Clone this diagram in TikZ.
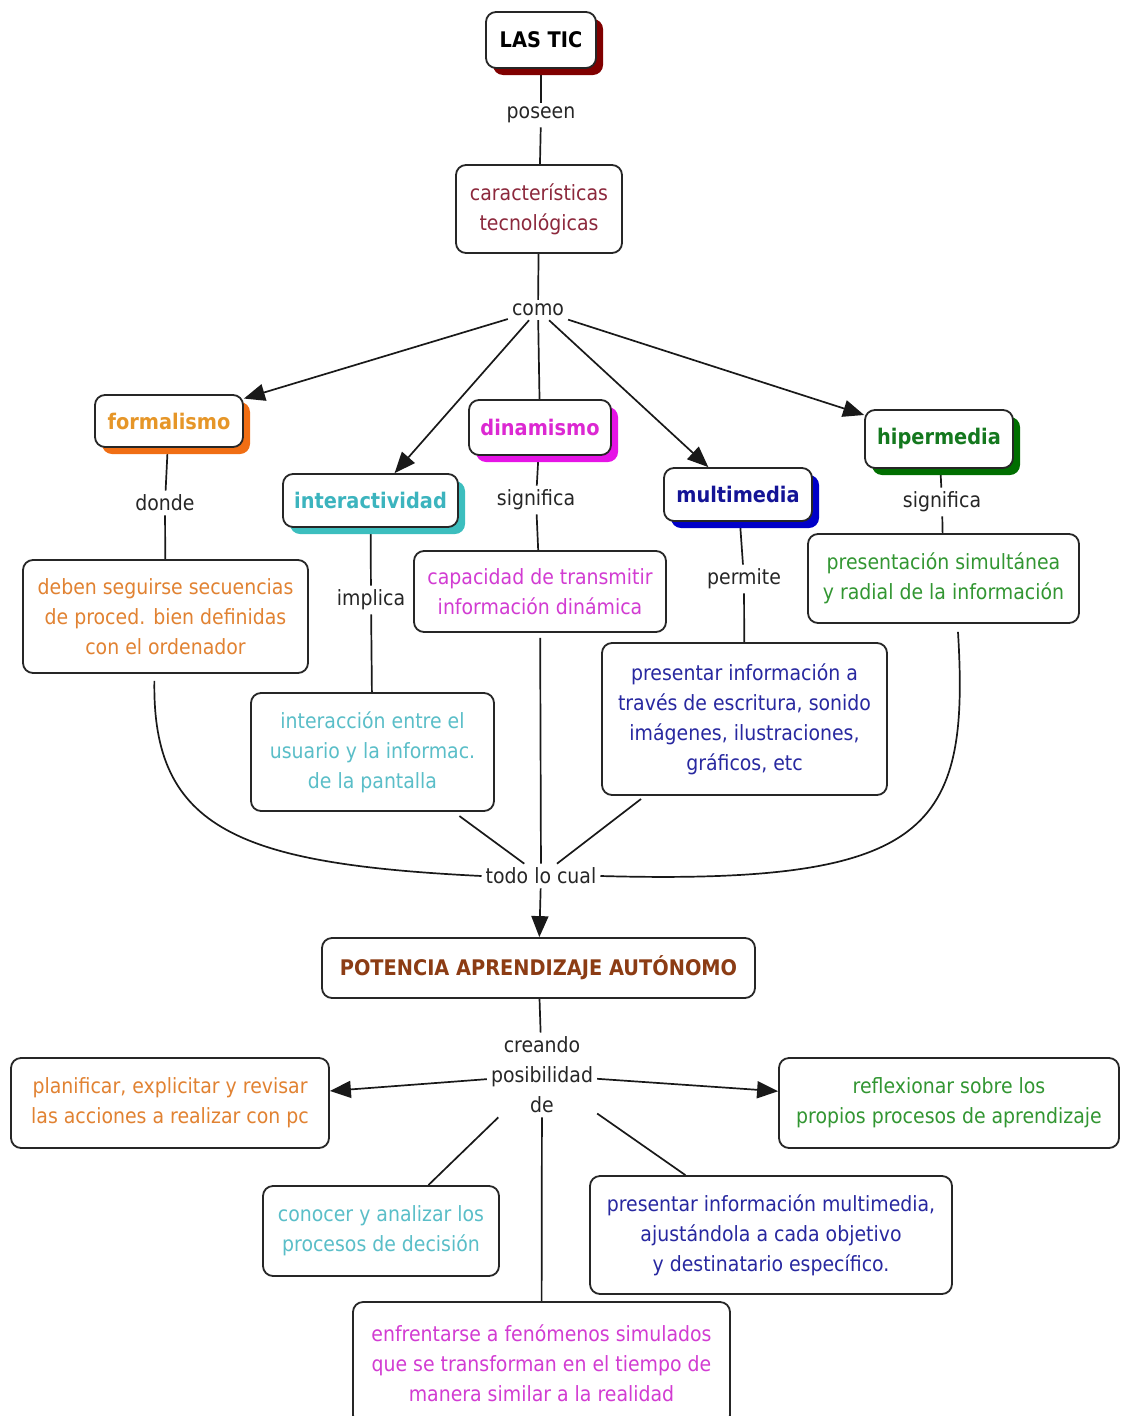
\documentclass[tikz,border=0pt]{standalone}
\usepackage{fontspec}
\setmainfont{DejaVu Sans}[FakeStretch=0.9]
\usetikzlibrary{arrows.meta,shadows,backgrounds}
\definecolor{cMaroon}{RGB}{128,0,0}
\definecolor{cRose}{RGB}{140,40,60}
\definecolor{cOrT}{RGB}{230,150,40}
\definecolor{cOrS}{RGB}{240,110,20}
\definecolor{cOr}{RGB}{225,130,50}
\definecolor{cTeT}{RGB}{60,180,190}
\definecolor{cTeS}{RGB}{60,190,190}
\definecolor{cTe}{RGB}{90,190,200}
\definecolor{cMaT}{RGB}{220,40,210}
\definecolor{cMaS}{RGB}{230,20,230}
\definecolor{cMa}{RGB}{210,60,210}
\definecolor{cBlT}{RGB}{20,20,150}
\definecolor{cBlS}{RGB}{0,0,200}
\definecolor{cBl}{RGB}{40,40,160}
\definecolor{cGrT}{RGB}{20,120,30}
\definecolor{cGrS}{RGB}{0,110,0}
\definecolor{cGr}{RGB}{50,150,50}
\definecolor{cBr}{RGB}{140,60,20}
\tikzset{
  txt/.style={font=\fontsize{21}{30}\selectfont},
  box/.style={draw=black!85, line width=1.8pt, rounded corners=10pt, fill=white,
    align=center, inner sep=0pt, txt},
  bbox/.style={box, font=\fontsize{21.5}{30}\selectfont\bfseries},
  sh/.style={drop shadow={shadow xshift=7pt,shadow yshift=-7pt,fill=#1,opacity=1}},
  lbl/.style={txt, align=center, inner sep=4pt, text=black!85},
  conn/.style={line width=1.7pt, black!90},
  arr/.style={conn, -{Triangle[length=21pt,width=17pt]}},
}
\begin{document}
\begin{tikzpicture}[x=1pt,y=-1pt]
\useasboundingbox (0,0) rectangle (1120,1416);
% concept nodes
\node[bbox, sh=cMaroon, minimum width=110, minimum height=56] (lastic) at (541,40) {LAS TIC};
\node[box, text=cRose, minimum width=166, minimum height=88] (caract) at (539,209) {características\\tecnológicas};
\node[bbox, sh=cOrS, text=cOrT, minimum width=148, minimum height=52] (formal) at (169,421) {formalismo};
\node[bbox, sh=cTeS, text=cTeT, minimum width=175, minimum height=53] (interact) at (370.5,500.5) {interactividad};
\node[bbox, sh=cMaS, text=cMaT, minimum width=142, minimum height=55] (dinam) at (540,427.5) {dinamismo};
\node[bbox, sh=cBlS, text=cBlT, minimum width=148, minimum height=53] (multi) at (738,494.5) {multimedia};
\node[bbox, sh=cGrS, text=cGrT, minimum width=148, minimum height=58] (hiper) at (939,439) {hipermedia};
\node[box, text=cOr, minimum width=285, minimum height=113] (deben) at (165.5,616.5) {deben seguirse secuencias\\de proced. bien definidas\\con el ordenador};
\node[box, text=cTe, minimum width=243, minimum height=118] (interac) at (372.5,752) {interacción entre el\\usuario y la informac.\\de la pantalla};
\node[box, text=cMa, minimum width=252, minimum height=81] (capac) at (540,591.5) {capacidad de transmitir\\información dinámica};
\node[box, text=cBl, minimum width=285, minimum height=152] (presinfo) at (744.5,719) {presentar información a\\través de escritura, sonido\\imágenes, ilustraciones,\\gráficos, etc};
\node[box, text=cGr, minimum width=271, minimum height=89] (presen) at (943.5,578.5) {presentación simultánea\\y radial de la información};
\node[bbox, text=cBr, minimum width=433, minimum height=60] (poten) at (538.5,968) {POTENCIA APRENDIZAJE AUTÓNOMO};
\node[box, text=cOr, minimum width=318, minimum height=90] (plani) at (170,1103) {planificar, explicitar y revisar\\las acciones a realizar con pc};
\node[box, text=cGr, minimum width=340, minimum height=90] (reflex) at (949,1103) {reflexionar sobre los\\propios procesos de aprendizaje};
\node[box, text=cTe, minimum width=236, minimum height=90] (conoc) at (381,1231) {conocer y analizar los\\procesos de decisión};
\node[box, text=cBl, minimum width=362, minimum height=118] (presmul) at (771,1235) {presentar información multimedia,\\ajustándola a cada objetivo\\y destinatario específico.};
\node[box, text=cMa, minimum width=377, minimum height=123] (enfren) at (541.5,1363.5) {enfrentarse a fenómenos simulados\\que se transforman en el tiempo de\\manera similar a la realidad};
% linking phrases
\node[lbl] (poseen) at (541,115) {poseen};
\node[lbl] (como) at (538,310) {como};
\node[lbl] (donde) at (165,503) {donde};
\node[lbl] (implica) at (371,600) {implica};
\node[lbl] (signif1) at (536,500) {significa};
\node[lbl] (permite) at (744,579) {permite};
\node[lbl] (signif2) at (942,502) {significa};
\node[lbl] (todo) at (541,876) {todo lo cual};
\node[lbl] (creando) at (542,1075) {creando\\posibilidad\\de};
% connectors
\begin{scope}[on background layer]
\draw[conn] (lastic) -- (poseen);
\draw[conn] (poseen) -- (caract);
\draw[conn] (caract) -- (como);
\draw[arr] (como) -- (formal);
\draw[arr] (como) -- (interact);
\draw[conn] (como) -- (dinam);
\draw[arr] (como) -- (multi);
\draw[arr] (como) -- (hiper);
\draw[conn] (formal) -- (donde);
\draw[conn] (donde) -- (deben);
\draw[conn] (interact) -- (implica);
\draw[conn] (implica) -- (interac);
\draw[conn] (dinam) -- (signif1);
\draw[conn] (signif1) -- (capac);
\draw[conn] (multi) -- (permite);
\draw[conn] (permite) -- (presinfo);
\draw[conn] (hiper) -- (signif2);
\draw[conn] (signif2) -- (presen);
\draw[conn, shorten <=7pt] ([xshift=-11pt]deben.south) .. controls (152,830) and (240,864) .. (todo.west);
\draw[conn, shorten <=8pt] ([xshift=14pt]presen.south) .. controls (970,830) and (930,885) .. (todo.east);
\draw[conn, shorten <=7pt] (interac) -- (todo);
\draw[conn, shorten <=5pt] (capac) -- (todo);
\draw[conn, shorten <=5pt] (presinfo) -- (todo);
\draw[arr] (todo) -- (poten);
\draw[conn] (poten) -- (creando);
\draw[arr] (creando) -- (plani);
\draw[arr] (creando) -- (reflex);
\draw[conn] (creando) -- (conoc);
\draw[conn] (creando) -- (presmul);
\draw[conn] (creando) -- (enfren);
\end{scope}
\end{tikzpicture}
\end{document}
